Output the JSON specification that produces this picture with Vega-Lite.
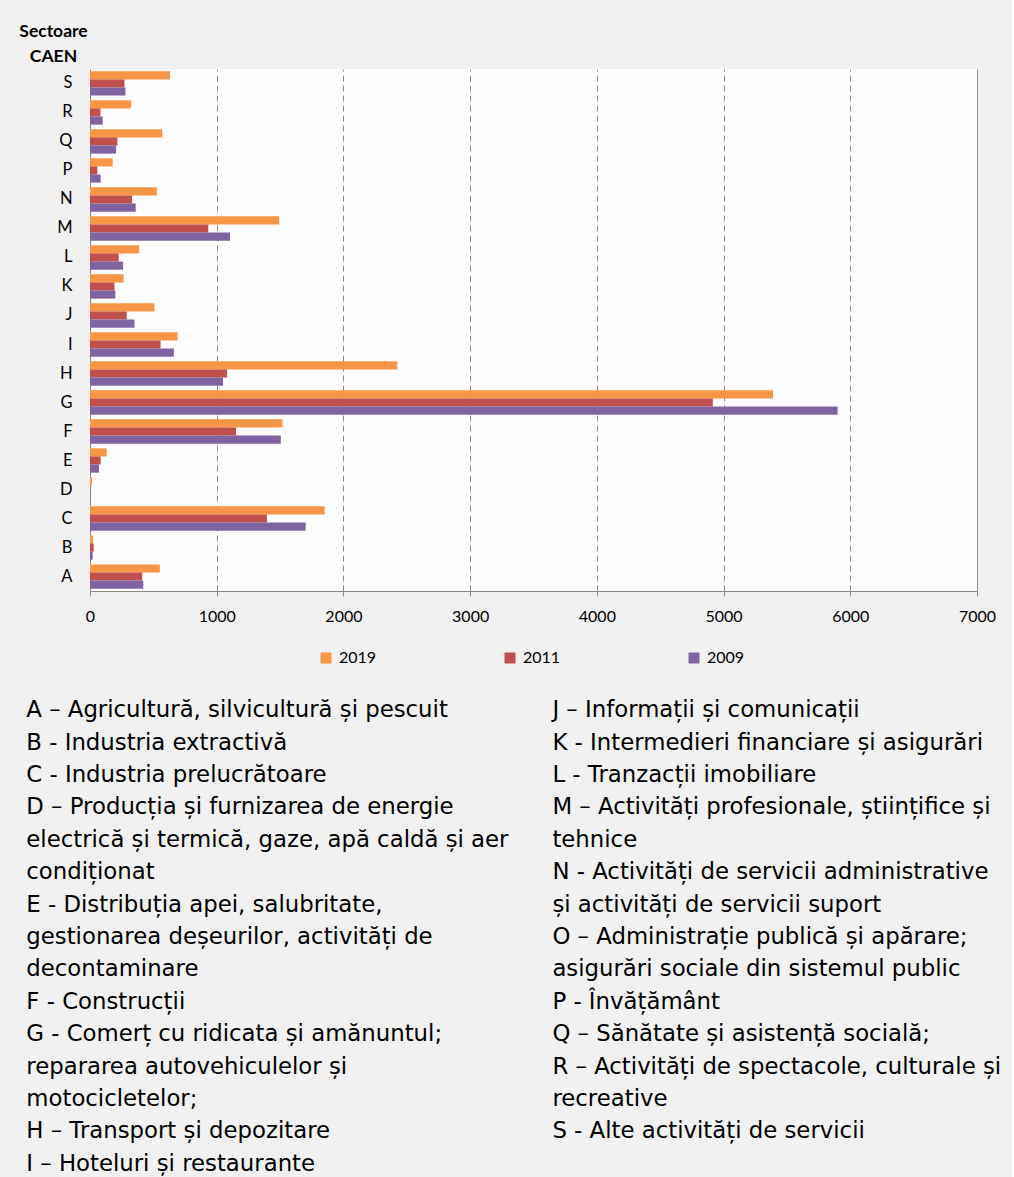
{
  "$schema": "https://vega.github.io/schema/vega-lite/v6.json",
  "background": "#f1f1f1",
  "padding": {"left": 18, "top": 22, "right": 10, "bottom": 7},
  "config": {
    "view": {"stroke": null},
    "axis": {"labelFont": "Lato", "titleFont": "Lato"},
    "legend": {"labelFont": "Lato", "titleFont": "Lato"}
  },
  "spacing": 75,
  "vconcat": [
    {
      "width": 887,
      "height": 522,
      "view": {"fill": "#fdfdfd", "stroke": null},
      "data": {"values": [
        {"sector": "A", "year": "2019", "value": 551}, {"sector": "A", "year": "2011", "value": 412}, {"sector": "A", "year": "2009", "value": 420},
        {"sector": "B", "year": "2019", "value": 24}, {"sector": "B", "year": "2011", "value": 29}, {"sector": "B", "year": "2009", "value": 21},
        {"sector": "C", "year": "2019", "value": 1852}, {"sector": "C", "year": "2011", "value": 1396}, {"sector": "C", "year": "2009", "value": 1702},
        {"sector": "D", "year": "2019", "value": 16}, {"sector": "D", "year": "2011", "value": 3}, {"sector": "D", "year": "2009", "value": 3},
        {"sector": "E", "year": "2019", "value": 132}, {"sector": "E", "year": "2011", "value": 84}, {"sector": "E", "year": "2009", "value": 71},
        {"sector": "F", "year": "2019", "value": 1520}, {"sector": "F", "year": "2011", "value": 1153}, {"sector": "F", "year": "2009", "value": 1506},
        {"sector": "G", "year": "2019", "value": 5390}, {"sector": "G", "year": "2011", "value": 4915}, {"sector": "G", "year": "2009", "value": 5900},
        {"sector": "H", "year": "2019", "value": 2425}, {"sector": "H", "year": "2011", "value": 1082}, {"sector": "H", "year": "2009", "value": 1050},
        {"sector": "I", "year": "2019", "value": 691}, {"sector": "I", "year": "2011", "value": 557}, {"sector": "I", "year": "2009", "value": 662},
        {"sector": "J", "year": "2019", "value": 509}, {"sector": "J", "year": "2011", "value": 290}, {"sector": "J", "year": "2009", "value": 351},
        {"sector": "K", "year": "2019", "value": 266}, {"sector": "K", "year": "2011", "value": 193}, {"sector": "K", "year": "2009", "value": 200},
        {"sector": "L", "year": "2019", "value": 388}, {"sector": "L", "year": "2011", "value": 227}, {"sector": "L", "year": "2009", "value": 261},
        {"sector": "M", "year": "2019", "value": 1493}, {"sector": "M", "year": "2011", "value": 934}, {"sector": "M", "year": "2009", "value": 1105},
        {"sector": "N", "year": "2019", "value": 528}, {"sector": "N", "year": "2011", "value": 332}, {"sector": "N", "year": "2009", "value": 361},
        {"sector": "P", "year": "2019", "value": 179}, {"sector": "P", "year": "2011", "value": 58}, {"sector": "P", "year": "2009", "value": 84},
        {"sector": "Q", "year": "2019", "value": 570}, {"sector": "Q", "year": "2011", "value": 216}, {"sector": "Q", "year": "2009", "value": 206},
        {"sector": "R", "year": "2019", "value": 325}, {"sector": "R", "year": "2011", "value": 82}, {"sector": "R", "year": "2009", "value": 100},
        {"sector": "S", "year": "2019", "value": 631}, {"sector": "S", "year": "2011", "value": 272}, {"sector": "S", "year": "2009", "value": 280}
      ]},
      "mark": {"type": "bar"},
      "encoding": {
        "y": {
          "field": "sector", "type": "nominal", "sort": "descending",
          "scale": {"paddingInner": 0.162, "paddingOuter": 0.08},
          "axis": {
            "title": ["Sectoare", "CAEN"], "titleAngle": 0, "titleAlign": "center", "titleBaseline": "alphabetic",
            "titleX": -37, "titleY": -33, "titleFontSize": 17.5, "titleFontWeight": "bold",
            "titleLineHeight": 25, "titleColor": "#000",
            "labelFontSize": 16.5, "labelColor": "#000", "labelPadding": 18, "ticks": false,
            "domainColor": "#888", "labelAngle": 0
          }
        },
        "yOffset": {"field": "year", "sort": ["2019", "2011", "2009"]},
        "x": {
          "field": "value", "type": "quantitative",
          "scale": {"domain": [0, 7000], "nice": false},
          "axis": {
            "title": null, "values": [0, 1000, 2000, 3000, 4000, 5000, 6000, 7000], "format": "d",
            "grid": true, "labelFlush": false,
            "gridDash": {"condition": {"test": "datum.value === 7000", "value": []}, "value": [6, 4]},
            "gridOpacity": {"condition": {"test": "datum.value === 0", "value": 0}, "value": 1},
            "gridColor": "#8a8a8a", "domainColor": "#888", "tickColor": "#888", "tickSize": 5,
            "labelFontSize": 16, "labelColor": "#000", "labelPadding": 12
          }
        },
        "color": {
          "field": "year", "type": "nominal",
          "scale": {"domain": ["2019", "2011", "2009"], "range": ["#f79646", "#c0504d", "#8064a2"]},
          "legend": {
            "orient": "none", "legendX": 228, "legendY": 581, "direction": "horizontal", "title": null,
            "symbolType": "square", "symbolSize": 121, "symbolStrokeWidth": 0,
            "labelFontSize": 16, "labelColor": "#000", "columnPadding": 125, "gridAlign": "all",
            "labelOffset": 5, "padding": 0
          }
        }
      }
    },
    {
      "width": 887,
      "height": 470,
      "data": {"values": [
        {"col": "L", "line": 0, "text": "A – Agricultură, silvicultură și pescuit"},
        {"col": "L", "line": 1, "text": "B - Industria extractivă"},
        {"col": "L", "line": 2, "text": "C - Industria prelucrătoare"},
        {"col": "L", "line": 3, "text": "D – Producția și furnizarea de energie"},
        {"col": "L", "line": 4, "text": "electrică și termică, gaze, apă caldă și aer"},
        {"col": "L", "line": 5, "text": "condiționat"},
        {"col": "L", "line": 6, "text": "E - Distribuția apei, salubritate,"},
        {"col": "L", "line": 7, "text": "gestionarea deșeurilor, activități de"},
        {"col": "L", "line": 8, "text": "decontaminare"},
        {"col": "L", "line": 9, "text": "F - Construcții"},
        {"col": "L", "line": 10, "text": "G - Comerț cu ridicata și amănuntul;"},
        {"col": "L", "line": 11, "text": "repararea autovehiculelor și"},
        {"col": "L", "line": 12, "text": "motocicletelor;"},
        {"col": "L", "line": 13, "text": "H – Transport și depozitare"},
        {"col": "L", "line": 14, "text": "I – Hoteluri și restaurante"},
        {"col": "R", "line": 0, "text": "J – Informații și comunicații"},
        {"col": "R", "line": 1, "text": "K - Intermedieri financiare și asigurări"},
        {"col": "R", "line": 2, "text": "L - Tranzacții imobiliare"},
        {"col": "R", "line": 3, "text": "M – Activități profesionale, științifice și"},
        {"col": "R", "line": 4, "text": "tehnice"},
        {"col": "R", "line": 5, "text": "N - Activități de servicii administrative"},
        {"col": "R", "line": 6, "text": "și activități de servicii suport"},
        {"col": "R", "line": 7, "text": "O – Administrație publică și apărare;"},
        {"col": "R", "line": 8, "text": "asigurări sociale din sistemul public"},
        {"col": "R", "line": 9, "text": "P - Învățământ"},
        {"col": "R", "line": 10, "text": "Q – Sănătate și asistență socială;"},
        {"col": "R", "line": 11, "text": "R – Activități de spectacole, culturale și"},
        {"col": "R", "line": 12, "text": "recreative"},
        {"col": "R", "line": 13, "text": "S - Alte activități de servicii"}
      ]},
      "mark": {"type": "text", "align": "left", "baseline": "middle", "font": "DejaVu Sans", "fontSize": 22.8, "dx": -63.7, "color": "#000"},
      "encoding": {
        "x": {"field": "col", "type": "nominal", "bandPosition": 0, "scale": {"type": "band", "paddingInner": 0.314, "paddingOuter": 0}, "axis": null},
        "y": {"field": "line", "type": "ordinal", "scale": {"type": "point", "padding": 0.25}, "axis": null},
        "text": {"field": "text"}
      }
    }
  ]
}
